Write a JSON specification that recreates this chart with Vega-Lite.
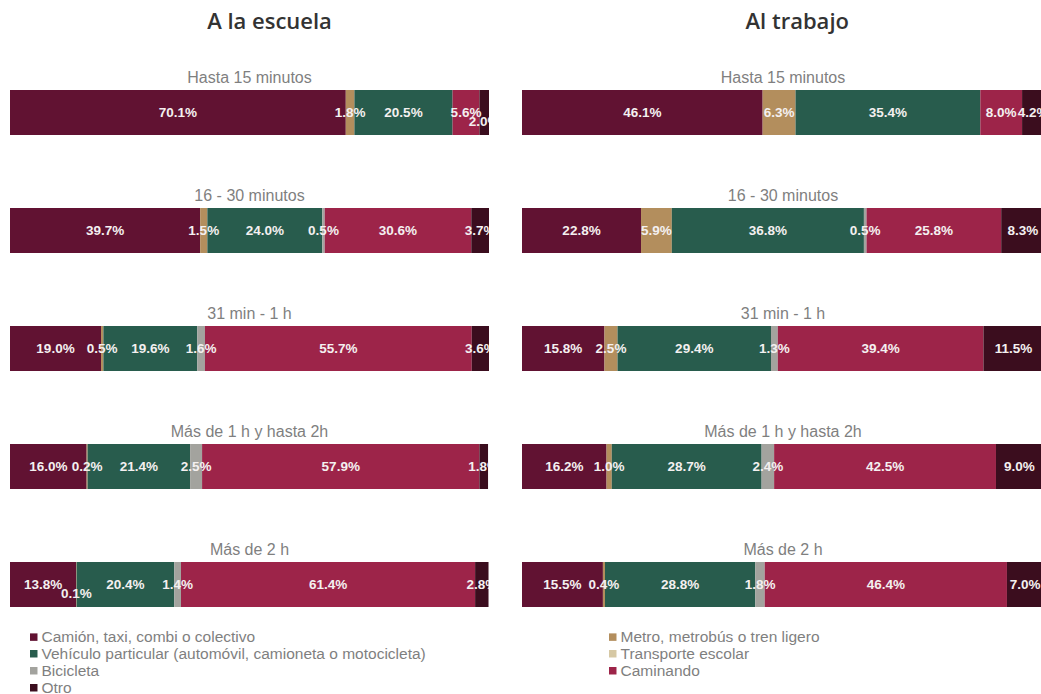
{
  "$schema": "https://vega.github.io/schema/vega-lite/v6.json",
  "background": "white",
  "padding": {"left": 10, "top": 11, "right": 0, "bottom": 0},
  "data": {"values": [
    {"dest": "A la escuela", "time": "Hasta 15 minutos", "mode": "Camión, taxi, combi o colectivo", "v": 70.1},
    {"dest": "A la escuela", "time": "Hasta 15 minutos", "mode": "Metro, metrobús o tren ligero", "v": 1.8},
    {"dest": "A la escuela", "time": "Hasta 15 minutos", "mode": "Vehículo particular (automóvil, camioneta o motocicleta)", "v": 20.5},
    {"dest": "A la escuela", "time": "Hasta 15 minutos", "mode": "Caminando", "v": 5.6},
    {"dest": "A la escuela", "time": "Hasta 15 minutos", "mode": "Otro", "v": 2.0},
    {"dest": "A la escuela", "time": "16 - 30 minutos", "mode": "Camión, taxi, combi o colectivo", "v": 39.7},
    {"dest": "A la escuela", "time": "16 - 30 minutos", "mode": "Metro, metrobús o tren ligero", "v": 1.5},
    {"dest": "A la escuela", "time": "16 - 30 minutos", "mode": "Vehículo particular (automóvil, camioneta o motocicleta)", "v": 24.0},
    {"dest": "A la escuela", "time": "16 - 30 minutos", "mode": "Bicicleta", "v": 0.5},
    {"dest": "A la escuela", "time": "16 - 30 minutos", "mode": "Caminando", "v": 30.6},
    {"dest": "A la escuela", "time": "16 - 30 minutos", "mode": "Otro", "v": 3.7},
    {"dest": "A la escuela", "time": "31 min - 1 h", "mode": "Camión, taxi, combi o colectivo", "v": 19.0},
    {"dest": "A la escuela", "time": "31 min - 1 h", "mode": "Metro, metrobús o tren ligero", "v": 0.5},
    {"dest": "A la escuela", "time": "31 min - 1 h", "mode": "Vehículo particular (automóvil, camioneta o motocicleta)", "v": 19.6},
    {"dest": "A la escuela", "time": "31 min - 1 h", "mode": "Bicicleta", "v": 1.6},
    {"dest": "A la escuela", "time": "31 min - 1 h", "mode": "Caminando", "v": 55.7},
    {"dest": "A la escuela", "time": "31 min - 1 h", "mode": "Otro", "v": 3.6},
    {"dest": "A la escuela", "time": "Más de 1 h y hasta 2h", "mode": "Camión, taxi, combi o colectivo", "v": 16.0},
    {"dest": "A la escuela", "time": "Más de 1 h y hasta 2h", "mode": "Metro, metrobús o tren ligero", "v": 0.2},
    {"dest": "A la escuela", "time": "Más de 1 h y hasta 2h", "mode": "Vehículo particular (automóvil, camioneta o motocicleta)", "v": 21.4},
    {"dest": "A la escuela", "time": "Más de 1 h y hasta 2h", "mode": "Bicicleta", "v": 2.5},
    {"dest": "A la escuela", "time": "Más de 1 h y hasta 2h", "mode": "Caminando", "v": 57.9},
    {"dest": "A la escuela", "time": "Más de 1 h y hasta 2h", "mode": "Otro", "v": 1.8},
    {"dest": "A la escuela", "time": "Más de 2 h", "mode": "Camión, taxi, combi o colectivo", "v": 13.8},
    {"dest": "A la escuela", "time": "Más de 2 h", "mode": "Metro, metrobús o tren ligero", "v": 0.1},
    {"dest": "A la escuela", "time": "Más de 2 h", "mode": "Vehículo particular (automóvil, camioneta o motocicleta)", "v": 20.4},
    {"dest": "A la escuela", "time": "Más de 2 h", "mode": "Bicicleta", "v": 1.4},
    {"dest": "A la escuela", "time": "Más de 2 h", "mode": "Caminando", "v": 61.4},
    {"dest": "A la escuela", "time": "Más de 2 h", "mode": "Otro", "v": 2.8},
    {"dest": "Al trabajo", "time": "Hasta 15 minutos", "mode": "Camión, taxi, combi o colectivo", "v": 46.1},
    {"dest": "Al trabajo", "time": "Hasta 15 minutos", "mode": "Metro, metrobús o tren ligero", "v": 6.3},
    {"dest": "Al trabajo", "time": "Hasta 15 minutos", "mode": "Vehículo particular (automóvil, camioneta o motocicleta)", "v": 35.4},
    {"dest": "Al trabajo", "time": "Hasta 15 minutos", "mode": "Caminando", "v": 8.0},
    {"dest": "Al trabajo", "time": "Hasta 15 minutos", "mode": "Otro", "v": 4.2},
    {"dest": "Al trabajo", "time": "16 - 30 minutos", "mode": "Camión, taxi, combi o colectivo", "v": 22.8},
    {"dest": "Al trabajo", "time": "16 - 30 minutos", "mode": "Metro, metrobús o tren ligero", "v": 5.9},
    {"dest": "Al trabajo", "time": "16 - 30 minutos", "mode": "Vehículo particular (automóvil, camioneta o motocicleta)", "v": 36.8},
    {"dest": "Al trabajo", "time": "16 - 30 minutos", "mode": "Bicicleta", "v": 0.5},
    {"dest": "Al trabajo", "time": "16 - 30 minutos", "mode": "Caminando", "v": 25.8},
    {"dest": "Al trabajo", "time": "16 - 30 minutos", "mode": "Otro", "v": 8.3},
    {"dest": "Al trabajo", "time": "31 min - 1 h", "mode": "Camión, taxi, combi o colectivo", "v": 15.8},
    {"dest": "Al trabajo", "time": "31 min - 1 h", "mode": "Metro, metrobús o tren ligero", "v": 2.5},
    {"dest": "Al trabajo", "time": "31 min - 1 h", "mode": "Vehículo particular (automóvil, camioneta o motocicleta)", "v": 29.4},
    {"dest": "Al trabajo", "time": "31 min - 1 h", "mode": "Bicicleta", "v": 1.3},
    {"dest": "Al trabajo", "time": "31 min - 1 h", "mode": "Caminando", "v": 39.4},
    {"dest": "Al trabajo", "time": "31 min - 1 h", "mode": "Otro", "v": 11.5},
    {"dest": "Al trabajo", "time": "Más de 1 h y hasta 2h", "mode": "Camión, taxi, combi o colectivo", "v": 16.2},
    {"dest": "Al trabajo", "time": "Más de 1 h y hasta 2h", "mode": "Metro, metrobús o tren ligero", "v": 1.0},
    {"dest": "Al trabajo", "time": "Más de 1 h y hasta 2h", "mode": "Vehículo particular (automóvil, camioneta o motocicleta)", "v": 28.7},
    {"dest": "Al trabajo", "time": "Más de 1 h y hasta 2h", "mode": "Bicicleta", "v": 2.4},
    {"dest": "Al trabajo", "time": "Más de 1 h y hasta 2h", "mode": "Caminando", "v": 42.5},
    {"dest": "Al trabajo", "time": "Más de 1 h y hasta 2h", "mode": "Otro", "v": 9.0},
    {"dest": "Al trabajo", "time": "Más de 2 h", "mode": "Camión, taxi, combi o colectivo", "v": 15.5},
    {"dest": "Al trabajo", "time": "Más de 2 h", "mode": "Metro, metrobús o tren ligero", "v": 0.4},
    {"dest": "Al trabajo", "time": "Más de 2 h", "mode": "Vehículo particular (automóvil, camioneta o motocicleta)", "v": 28.8},
    {"dest": "Al trabajo", "time": "Más de 2 h", "mode": "Bicicleta", "v": 1.8},
    {"dest": "Al trabajo", "time": "Más de 2 h", "mode": "Caminando", "v": 46.4},
    {"dest": "Al trabajo", "time": "Más de 2 h", "mode": "Otro", "v": 7.0}
  ]},
  "config": {
    "view": {"stroke": null},
    "font": "Liberation Sans",
    "header": {"labelOrient": "top", "labelFontSize": 16, "labelColor": "#7f7f7f", "labelFont": "Liberation Sans", "labelPadding": 4, "title": null},
    "title": {"font": "Open Sans", "fontSize": 22, "fontWeight": 600, "color": "#333333", "anchor": "middle"},
    "legend": {
      "symbolType": "square", "symbolSize": 56, "symbolStrokeWidth": 0,
      "labelFontSize": 15.5, "labelColor": "#7f7f7f", "labelFont": "Liberation Sans", "labelLimit": 600,
      "columnPadding": 179, "rowPadding": 0, "labelOffset": 0, "gridAlign": "each"
    }
  },
  "resolve": {"scale": {"color": "shared"}, "legend": {"color": "shared"}},
  "spacing": 32,
  "hconcat": [
    {
      "title": {"text": "A la escuela", "dx": 20, "offset": 36},
      "transform": [
        {"filter": "datum.dest == 'A la escuela'"},
        {"calculate": "indexof(['Camión, taxi, combi o colectivo','Metro, metrobús o tren ligero','Vehículo particular (automóvil, camioneta o motocicleta)','Transporte escolar','Bicicleta','Caminando','Otro'], datum.mode)", "as": "ord"},
        {"stack": "v", "groupby": ["dest", "time"], "sort": [{"field": "ord"}], "as": ["x0", "x1"]},
        {"calculate": "(datum.x0 + datum.x1) / 2", "as": "mid"},
        {"calculate": "format(datum.v, '.1f') + '%'", "as": "lbl"},
        {"calculate": "(datum.time == 'Hasta 15 minutos' && datum.mode == 'Otro') || (datum.time == 'Más de 2 h' && datum.mode == 'Metro, metrobús o tren ligero')", "as": "low"}
      ],
      "facet": {"row": {"field": "time", "type": "nominal", "sort": ["Hasta 15 minutos", "16 - 30 minutos", "31 min - 1 h", "Más de 1 h y hasta 2h", "Más de 2 h"], "header": {"labelOrient": "top"}}},
      "spacing": {"row": 53},
      "spec": {
        "width": 479, "height": 45,
        "layer": [
          {
            "mark": {"type": "rect"},
            "encoding": {
              "x": {"field": "x0", "type": "quantitative", "scale": {"domain": [0, 100], "nice": false, "zero": true}, "axis": null},
              "x2": {"field": "x1"},
              "color": {"field": "mode", "type": "nominal",
                "legend": {"orient": "none", "legendX": 16, "legendY": 539, "columns": 2, "direction": "horizontal", "title": null},
                "scale": {"domain": ["Camión, taxi, combi o colectivo", "Metro, metrobús o tren ligero", "Vehículo particular (automóvil, camioneta o motocicleta)", "Transporte escolar", "Bicicleta", "Caminando", "Otro"],
                          "range": ["#611232", "#b38e5d", "#285c4d", "#d6c8a4", "#a3a39e", "#9d2449", "#3b0d1e"]}}
            }
          },
          {
            "transform": [{"filter": "!datum.low"}],
            "mark": {"type": "text", "fontWeight": "bold", "fontSize": 13.5, "color": "#f4f0f0", "clip": true},
            "encoding": {
              "x": {"field": "mid", "type": "quantitative"},
              "text": {"field": "lbl"}
            }
          },
          {
            "transform": [{"filter": "datum.low"}],
            "mark": {"type": "text", "fontWeight": "bold", "fontSize": 13.5, "color": "#f4f0f0", "clip": true, "dy": 9},
            "encoding": {
              "x": {"field": "mid", "type": "quantitative"},
              "text": {"field": "lbl"}
            }
          }
        ]
      }
    },
    {
      "title": {"text": "Al trabajo", "dx": 14, "offset": 36},
      "transform": [
        {"filter": "datum.dest == 'Al trabajo'"},
        {"calculate": "indexof(['Camión, taxi, combi o colectivo','Metro, metrobús o tren ligero','Vehículo particular (automóvil, camioneta o motocicleta)','Transporte escolar','Bicicleta','Caminando','Otro'], datum.mode)", "as": "ord"},
        {"stack": "v", "groupby": ["dest", "time"], "sort": [{"field": "ord"}], "as": ["x0", "x1"]},
        {"calculate": "(datum.x0 + datum.x1) / 2", "as": "mid"},
        {"calculate": "format(datum.v, '.1f') + '%'", "as": "lbl"}
      ],
      "facet": {"row": {"field": "time", "type": "nominal", "sort": ["Hasta 15 minutos", "16 - 30 minutos", "31 min - 1 h", "Más de 1 h y hasta 2h", "Más de 2 h"], "header": {"labelOrient": "top"}}},
      "spacing": {"row": 53},
      "spec": {
        "width": 522, "height": 45,
        "layer": [
          {
            "mark": {"type": "rect"},
            "encoding": {
              "x": {"field": "x0", "type": "quantitative", "scale": {"domain": [0, 100], "nice": false, "zero": true}, "axis": null},
              "x2": {"field": "x1"},
              "color": {"field": "mode", "type": "nominal",
                "scale": {"domain": ["Camión, taxi, combi o colectivo", "Metro, metrobús o tren ligero", "Vehículo particular (automóvil, camioneta o motocicleta)", "Transporte escolar", "Bicicleta", "Caminando", "Otro"],
                          "range": ["#611232", "#b38e5d", "#285c4d", "#d6c8a4", "#a3a39e", "#9d2449", "#3b0d1e"]}}
            }
          },
          {
            "mark": {"type": "text", "fontWeight": "bold", "fontSize": 13.5, "color": "#f4f0f0", "clip": true},
            "encoding": {
              "x": {"field": "mid", "type": "quantitative"},
              "text": {"field": "lbl"}
            }
          }
        ]
      }
    }
  ]
}
